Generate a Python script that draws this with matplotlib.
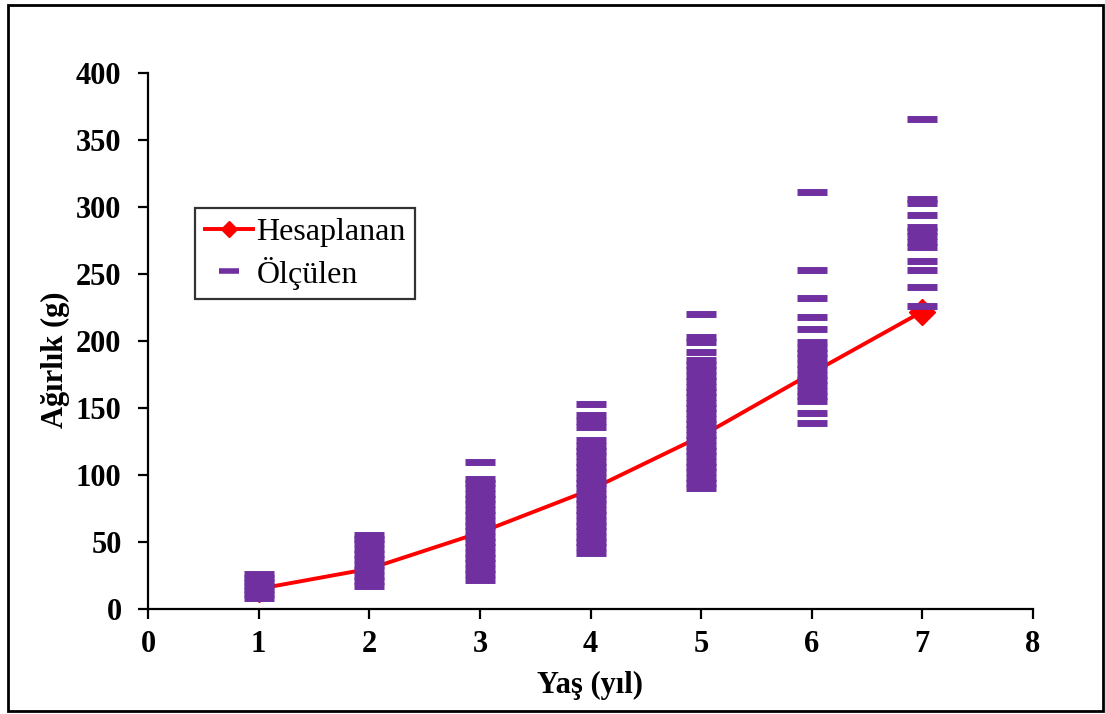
import matplotlib
matplotlib.use('Agg')
import matplotlib.pyplot as plt
from matplotlib.lines import Line2D
from matplotlib.patches import Rectangle

# Hesaplanan (model) weights per age
ages = [1, 2, 3, 4, 5, 6, 7]
hesaplanan = [15, 30, 57, 89, 129, 176, 222]

# Ölçülen (measured) weights per age group
olculen_1 = [8, 11, 14, 17, 20, 23, 26]
olculen_2 = [17, 21, 25, 29, 33, 37, 41, 45, 49, 52, 55]
olculen_3 = [22, 26, 30, 34, 38, 42, 46, 50, 54, 58, 62, 66, 70, 74, 78, 82, 86, 90, 94, 97, 110]
olculen_4 = [42, 46, 50, 54, 58, 62, 66, 70, 74, 78, 82, 86, 90, 94, 98, 102, 106, 110, 114,
             118, 122, 126, 136, 140, 145, 153]
olculen_5 = [90, 94, 98, 102, 106, 110, 114, 118, 122, 126, 130, 134, 138, 142, 146, 150, 154,
             158, 162, 166, 170, 174, 178, 182, 186, 192, 199, 203, 220]
olculen_6 = [139, 146, 155, 159, 163, 167, 171, 175, 179, 183, 187, 191, 195, 199, 209, 218,
             232, 253, 311]
olculen_7 = [226, 240, 253, 260, 270, 274, 278, 282, 285, 294, 303, 306, 366]

x_ticks = [0, 1, 2, 3, 4, 5, 6, 7, 8]
y_ticks = [0, 50, 100, 150, 200, 250, 300, 350, 400]

RED = '#FF0000'
PURPLE = '#7030A0'
FONT = 'Liberation Serif'

plt.rcParams['font.family'] = FONT

W, H = 1105, 714
fig = plt.figure(figsize=(W / 100, H / 100), dpi=100)
ax = fig.add_axes([148 / W, 1 - 609 / H, (1033 - 148) / W, (609 - 73) / H])

# model curve under the measured dashes
ax.plot(ages, hesaplanan, color=RED, lw=2.8, marker='D', ms=13, mec=RED, mfc=RED, zorder=2)

groups = [olculen_1, olculen_2, olculen_3, olculen_4, olculen_5, olculen_6, olculen_7]
for age, values in zip(ages, groups):
    ax.plot([age] * len(values), values, linestyle='none', marker='_', ms=21,
            mew=5, color=PURPLE, zorder=3, clip_on=False)

ax.set_xlim(0, 8)
ax.set_ylim(0, 400)
ax.set_xticks(x_ticks)
ax.set_yticks(y_ticks)
ax.set_xticklabels([str(t) for t in x_ticks])
ax.set_yticklabels([str(t) for t in y_ticks])

for side in ['top', 'right']:
    ax.spines[side].set_visible(False)
for side in ['left', 'bottom']:
    ax.spines[side].set_linewidth(1.6)

ax.tick_params(axis='both', direction='out', length=7, width=1.6, labelsize=22)
ax.tick_params(axis='y', pad=12)
ax.tick_params(axis='x', pad=8)
for lab in ax.get_xticklabels() + ax.get_yticklabels():
    lab.set_fontweight('bold')

fig.text(590 / W, 1 - 685 / H, 'Yaş (yıl)', ha='center', va='center',
         fontsize=22, fontweight='bold')
fig.text(55 / W, 1 - 360 / H, 'Ağırlık (g)', ha='center', va='center',
         rotation=90, fontsize=22, fontweight='bold')

handles = [
    Line2D([], [], color=RED, lw=2.8, marker='D', ms=8, mfc=RED, mec=RED),
    Line2D([], [], color=PURPLE, linestyle='none', marker='_', ms=14, mew=4),
]
leg = fig.legend(handles, ['Hesaplanan', 'Ölçülen'], loc='upper left',
                 bbox_to_anchor=(195 / W, 1 - 208 / H), fontsize=23,
                 frameon=True, fancybox=False, edgecolor='black',
                 handlelength=1.5, handletextpad=0.12, borderpad=0.3,
                 labelspacing=0.3, borderaxespad=0)
leg.get_frame().set_linewidth(1.6)

# outer frame around the whole chart
fig.patches.append(Rectangle((8 / W, 3 / H), (1103 - 8) / W, (711 - 5) / H,
                             transform=fig.transFigure, fill=False,
                             edgecolor='black', lw=2))

fig.savefig('out.png', dpi=100)
